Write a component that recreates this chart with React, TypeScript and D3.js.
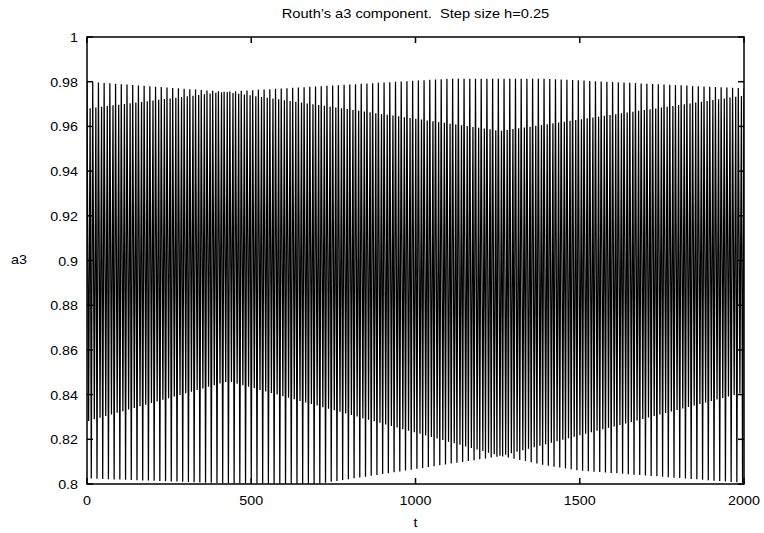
import React from "react";
import * as d3 from "d3";

// ---- data ----
const title = "Routh\u2019s a3 component.  Step size h=0.25";
const xLabel = "t";
const yLabel = "a3";
const xTicks = [0, 500, 1000, 1500, 2000];
const yTicks = [0.8, 0.82, 0.84, 0.86, 0.88, 0.9, 0.92, 0.94, 0.96, 0.98, 1];

// number of oscillation cycles over t in [0, 2000]
const cycles = 115;
// phases (fraction of a cycle) at which each extreme occurs
const phases = { highMax: 0, shallowMin: 0.28, lowMax: 0.55, deepMin: 0.75 };

// envelopes of the oscillation (t, value)
const highMaxT = [0, 420, 1100, 1400, 2000];
const highMaxV = [0.98, 0.9755, 0.9813, 0.9813, 0.977];
const lowMaxT = [0, 420, 1260, 2000];
const lowMaxV = [0.968, 0.9755, 0.958, 0.9738];
const shallowMinT = [0, 430, 1260, 2000];
const shallowMinV = [0.828, 0.846, 0.8125, 0.841];
const deepMinT = [0, 420, 700, 1260, 1409, 1500, 2000];
const deepMinV = [0.8025, 0.8003, 0.8, 0.8125, 0.808, 0.806, 0.8005];

const W = 764;
const H = 533;
const M = { left: 87, right: 744, top: 37, bottom: 484 };
const FONT = "'Liberation Sans', Arial, Helvetica, sans-serif";
const SX = 1.1;

function env(ts: number[], vs: number[]) {
  return d3.scaleLinear().domain(ts).range(vs).clamp(true);
}

export default function App() {
  const x = d3.scaleLinear().domain([0, 2000]).range([M.left, M.right]);
  const y = d3.scaleLinear().domain([0.8, 1]).range([M.bottom, M.top]);

  const eHigh = env(highMaxT, highMaxV);
  const eLow = env(lowMaxT, lowMaxV);
  const eShallow = env(shallowMinT, shallowMinV);
  const eDeep = env(deepMinT, deepMinV);

  const period = 2000 / cycles;
  const pts: [number, number][] = [];
  for (let k = 0; k <= cycles; k++) {
    const base = k * period;
    const seq: [number, (t: number) => number][] = [
      [phases.highMax, eHigh],
      [phases.shallowMin, eShallow],
      [phases.lowMax, eLow],
      [phases.deepMin, eDeep],
    ];
    for (const [ph, e] of seq) {
      const t = base + ph * period;
      if (t > 2000) break;
      pts.push([t, e(t)]);
    }
  }

  const line = d3
    .line<[number, number]>()
    .x((d) => x(d[0]))
    .y((d) => y(d[1]));

  const tickLen = 6;

  const txt = (
    s: string,
    tx: number,
    ty: number,
    anchor: "start" | "middle" | "end",
    size: number,
    key?: string
  ) => (
    <text
      key={key}
      transform={`translate(${tx},${ty}) scale(${SX},1)`}
      textAnchor={anchor}
      fontSize={size}
      fontFamily={FONT}
      fill="#000"
      style={{ whiteSpace: "pre" }}
    >
      {s}
    </text>
  );

  return (
    <svg
      width={W}
      height={H}
      style={{ position: "absolute", left: 0, top: 0, background: "#fff" }}
    >
      <rect x={0} y={0} width={W} height={H} fill="#fff" />
      <defs>
        <clipPath id="plotclip">
          <rect
            x={M.left}
            y={M.top}
            width={M.right - M.left}
            height={M.bottom - M.top}
          />
        </clipPath>
      </defs>

      <g clipPath="url(#plotclip)">
        <path d={line(pts) || ""} fill="none" stroke="#000" strokeWidth={1.25} />
      </g>

      {/* ticks */}
      {yTicks.map((v) => (
        <g key={"yt" + v}>
          <line x1={M.left} x2={M.left + tickLen} y1={y(v)} y2={y(v)} stroke="#000" strokeWidth={1.5} />
          <line x1={M.right} x2={M.right - tickLen} y1={y(v)} y2={y(v)} stroke="#000" strokeWidth={1.5} />
          {txt(String(+v.toFixed(2)), 78, y(v) + 5, "end", 13)}
        </g>
      ))}
      {xTicks.map((v) => (
        <g key={"xt" + v}>
          <line x1={x(v)} x2={x(v)} y1={M.bottom} y2={M.bottom - tickLen} stroke="#000" strokeWidth={1.5} />
          <line x1={x(v)} x2={x(v)} y1={M.top} y2={M.top + tickLen} stroke="#000" strokeWidth={1.5} />
          {txt(String(v), x(v), 505, "middle", 13)}
        </g>
      ))}

      {/* frame */}
      <rect
        x={M.left}
        y={M.top}
        width={M.right - M.left}
        height={M.bottom - M.top}
        fill="none"
        stroke="#000"
        strokeWidth={1.5}
      />

      {txt(title, (M.left + M.right) / 2, 18, "middle", 13.3)}
      {txt(xLabel, (M.left + M.right) / 2, 527, "middle", 13)}
      {txt(yLabel, 19, 264, "middle", 13)}
    </svg>
  );
}
